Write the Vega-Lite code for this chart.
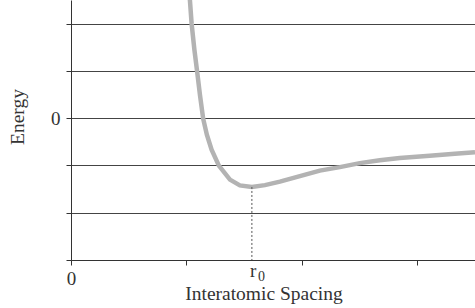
{
  "$schema": "https://vega.github.io/schema/vega-lite/v6.json",
  "width": 404,
  "height": 260,
  "autosize": "none",
  "padding": {"left": 71, "top": 0, "right": 0, "bottom": 48},
  "background": "white",
  "config": {
    "view": {"stroke": null},
    "font": "Liberation Serif",
    "axis": {
      "domainColor": "#333",
      "tickColor": "#333",
      "gridColor": "#444",
      "labelFont": "Liberation Serif",
      "titleFont": "Liberation Serif",
      "labelFontSize": 19,
      "titleFontSize": 19.5,
      "labelColor": "#333",
      "titleColor": "#333",
      "titleFontWeight": "normal",
      "tickSize": 5
    }
  },
  "datasets": {
    "curve": [
      {"r": 1.020, "E": 2.90},
      {"r": 1.030, "E": 2.505},
      {"r": 1.045, "E": 1.998},
      {"r": 1.069, "E": 1.448},
      {"r": 1.094, "E": 0.962},
      {"r": 1.117, "E": 0.497},
      {"r": 1.145, "E": -0.011},
      {"r": 1.177, "E": -0.349},
      {"r": 1.218, "E": -0.666},
      {"r": 1.281, "E": -1.004},
      {"r": 1.377, "E": -1.300},
      {"r": 1.463, "E": -1.421},
      {"r": 1.567, "E": -1.455},
      {"r": 1.680, "E": -1.416},
      {"r": 1.810, "E": -1.342},
      {"r": 1.983, "E": -1.226},
      {"r": 2.156, "E": -1.110},
      {"r": 2.329, "E": -1.036},
      {"r": 2.502, "E": -0.951},
      {"r": 2.675, "E": -0.888},
      {"r": 2.848, "E": -0.841},
      {"r": 3.108, "E": -0.793},
      {"r": 3.325, "E": -0.751},
      {"r": 3.500, "E": -0.719}
    ],
    "marker": [
      {"r": 1.567, "Emin": -1.455, "Ebase": -3, "label": "r", "sub": "0"}
    ]
  },
  "layer": [
    {
      "data": {"name": "curve"},
      "mark": {"type": "line", "color": "#b3b3b3", "strokeWidth": 4.5, "clip": true},
      "encoding": {
        "x": {
          "field": "r", "type": "quantitative",
          "scale": {"domain": [0, 3.5], "nice": false, "zero": false},
          "axis": {
            "values": [0, 1, 2, 3],
            "grid": false,
            "labelFlush": false,
            "labelExpr": "datum.value == 0 ? '0' : ''",
            "labelPadding": 4,
            "title": "Interatomic Spacing",
            "titleX": 192.5,
            "titleY": 39,
            "titleBaseline": "alphabetic",
            "titleAlign": "center",
            "titleAnchor": null
          }
        },
        "y": {
          "field": "E", "type": "quantitative",
          "scale": {"domain": [-3, 2.5], "nice": false, "zero": false},
          "axis": {
            "values": [-3, -2, -1, 0, 1, 2],
            "grid": true,
            "labelFlush": false,
            "labelExpr": "datum.value == 0 ? '0' : ''",
            "labelPadding": 6,
            "labelBaseline": "middle",
            "title": "Energy",
            "titleAngle": 270,
            "titleX": -54,
            "titleY": 116.5,
            "titleAlign": "center",
            "titleBaseline": "middle",
            "titleAnchor": null
          }
        },
        "order": {"field": "r", "type": "quantitative"}
      }
    },
    {
      "data": {"name": "marker"},
      "mark": {"type": "rule", "color": "#555", "strokeWidth": 1, "strokeDash": [2, 2]},
      "encoding": {
        "x": {"field": "r", "type": "quantitative"},
        "y": {"field": "Emin", "type": "quantitative"},
        "y2": {"field": "Ebase"}
      }
    },
    {
      "data": {"name": "marker"},
      "mark": {"type": "text", "font": "Liberation Serif", "fontSize": 19, "color": "#333", "align": "left", "baseline": "alphabetic", "dx": -2, "dy": 17},
      "encoding": {
        "x": {"field": "r", "type": "quantitative"},
        "y": {"field": "Ebase", "type": "quantitative"},
        "text": {"field": "label"}
      }
    },
    {
      "data": {"name": "marker"},
      "mark": {"type": "text", "font": "Liberation Serif", "fontSize": 14, "color": "#333", "align": "left", "baseline": "alphabetic", "dx": 6, "dy": 20.5},
      "encoding": {
        "x": {"field": "r", "type": "quantitative"},
        "y": {"field": "Ebase", "type": "quantitative"},
        "text": {"field": "sub"}
      }
    }
  ]
}
